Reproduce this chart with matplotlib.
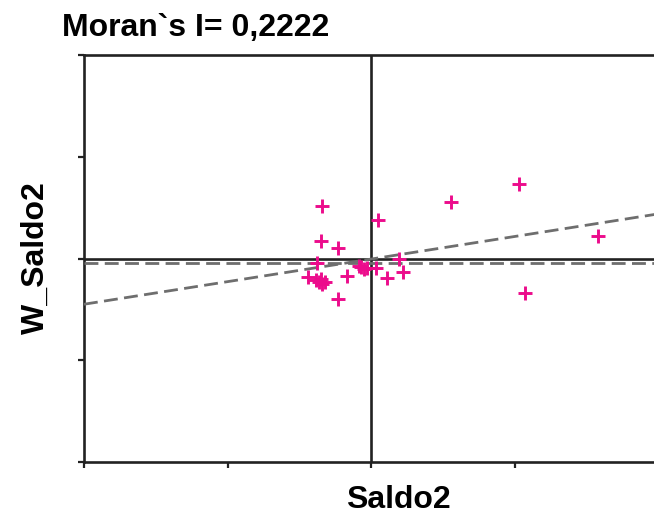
import numpy as np
import matplotlib.pyplot as plt

plt.rcParams['font.family'] = ['Liberation Sans', 'DejaVu Sans']

# standaryzowane Saldo2 i jego opóźnienie przestrzenne
saldo2 = [-0.346, -0.35, -0.235, 0.044, -0.38, -0.44, -0.385, -0.35, -0.343,
          -0.32, -0.367, -0.23, -0.167, -0.084, -0.049, -0.033, 0.033, 0.107,
          0.223, 0.195, -0.07, 0.553, 1.03, 1.58, 1.066]
w_saldo2 = [0.52, 0.17, 0.105, 0.38, -0.046, -0.18, -0.21, -0.20, -0.25,
            -0.23, -0.23, -0.395, -0.167, -0.07, -0.10, -0.09, -0.09, -0.19,
            -0.134, 0.0, -0.085, 0.56, 0.73, 0.225, -0.34]
moran_i = 0.2222
intercept = -0.005
mean_w = -0.045

fig = plt.figure(figsize=(6.54, 5.19), dpi=100)
ax = fig.add_axes([0.1284, 0.1098, 0.879, 0.7842])

ax.set_xlim(-2, 2)
ax.set_ylim(-2, 2)
ax.set_xticks([-2, -1, 0, 1, 2])
ax.set_yticks([-2, -1, 0, 1, 2])
ax.set_xticklabels([])
ax.set_yticklabels([])
ax.tick_params(length=4, width=1.6, color='#222222')

for s in ax.spines.values():
    s.set_linewidth(1.9)
    s.set_color('#222222')

ax.axhline(0, color='#222222', lw=1.9, zorder=2)
ax.axvline(0, color='#222222', lw=1.9, zorder=2)

xs = np.array([-2.0, 2.1])
ax.plot(xs, intercept + moran_i * xs, color='#6e6e6e', lw=2,
        ls=(0, (5, 2.3)), zorder=3)
ax.axhline(mean_w, color='#6e6e6e', lw=2, ls=(0, (5, 2.3)), zorder=3)

ax.plot(saldo2, w_saldo2, ls='none', marker='+', ms=10, mew=2.1,
        color='#ec0c8c', zorder=4)

fig.text(0.095, 0.946, "Moran`s I= 0,2222", fontsize=23, fontweight='bold',
         ha='left', va='center')
fig.text(0.054, 0.503, "W_Saldo2", fontsize=23, fontweight='bold',
         rotation=90, ha='center', va='center')
fig.text(0.609, 0.036, "Saldo2", fontsize=23, fontweight='bold',
         ha='center', va='center')

fig.savefig('out.png', dpi=100)
